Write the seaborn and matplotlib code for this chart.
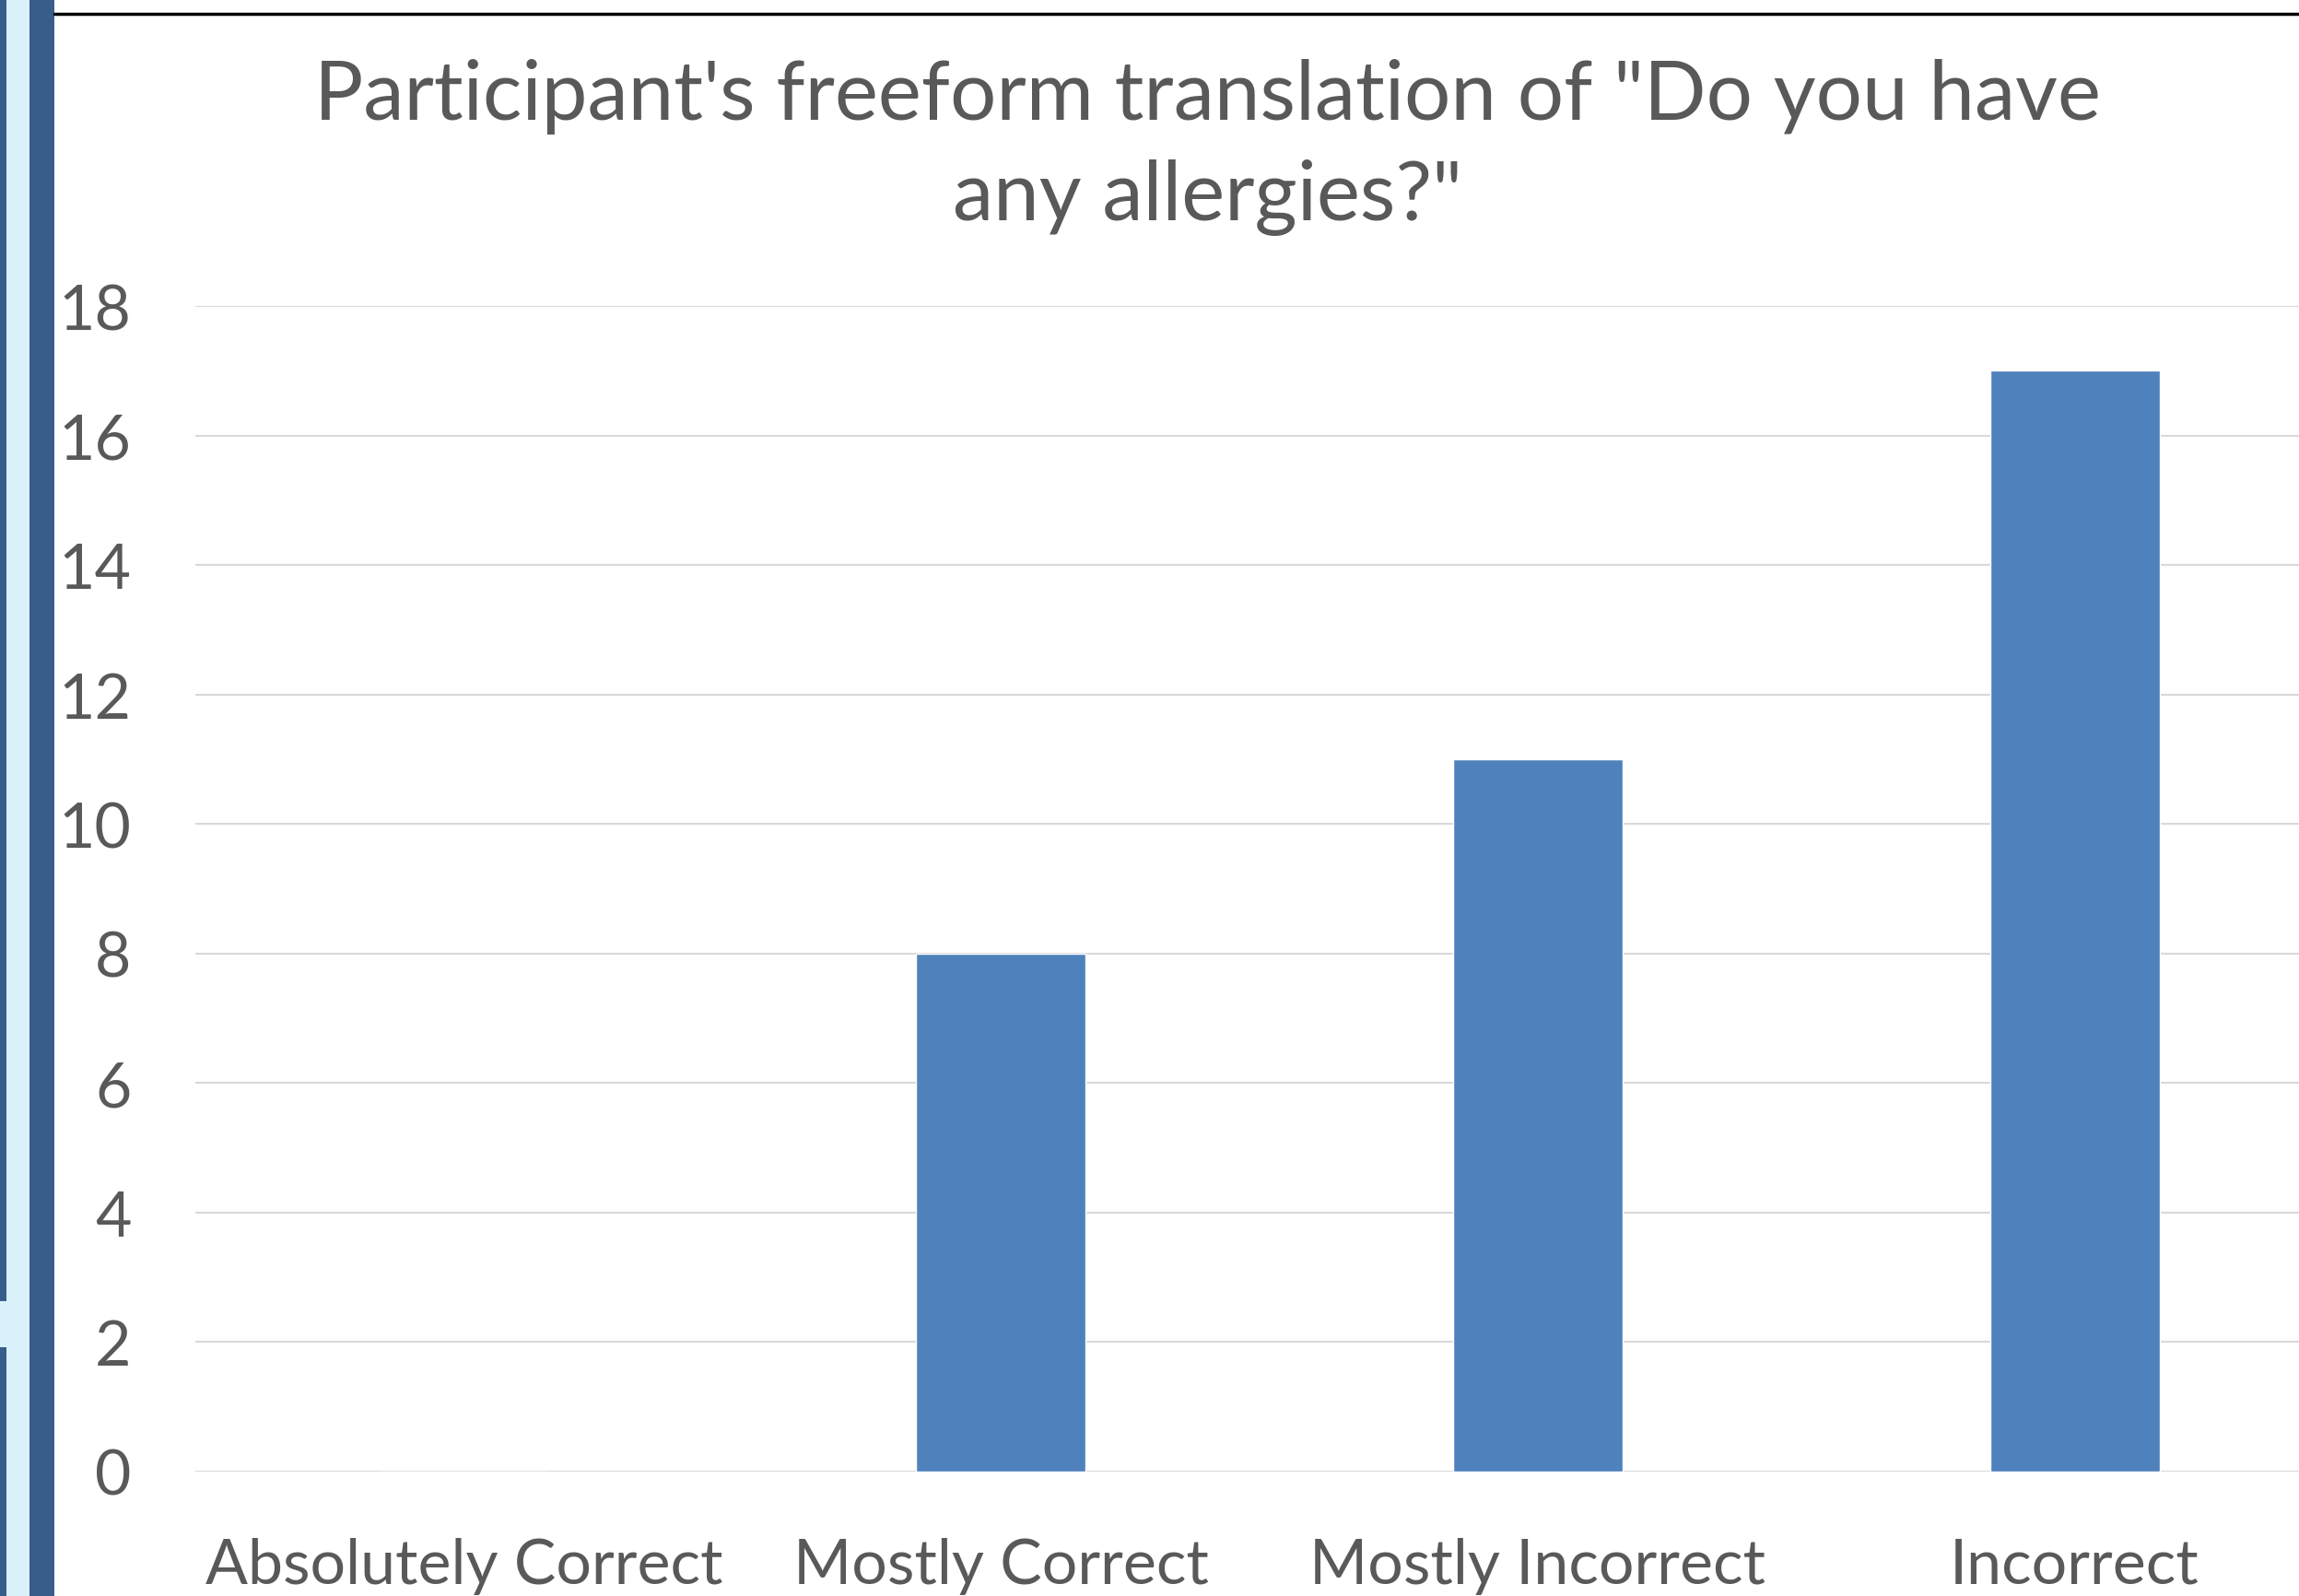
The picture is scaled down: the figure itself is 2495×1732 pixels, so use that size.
import matplotlib
matplotlib.use("Agg")
import matplotlib.pyplot as plt
from matplotlib.patches import Rectangle
from matplotlib.lines import Line2D
import seaborn as sns

categories = ["Absolutely Correct", "Mostly Correct", "Mostly Incorrect", "Incorrect"]
counts = [0, 8, 11, 17]
y_ticks = [0, 2, 4, 6, 8, 10, 12, 14, 16, 18]
title = "Participant's freeform translation of \"Do you have\nany allergies?\""

W, H = 2495, 1733
sns.set_style("white")
plt.rcParams["font.family"] = ["Lato", "DejaVu Sans"]
text_col = "#595959"

fig = plt.figure(figsize=(W / 100, H / 100), dpi=100)
fig.patch.set_facecolor("white")

# plot area (extends a bit past the right edge, as in the cropped screenshot)
left, right, top, bottom = 212, 2543, 333, 1598
ax = fig.add_axes([left / W, 1 - bottom / H, (right - left) / W, (bottom - top) / H])
sns.barplot(x=categories, y=counts, color="#4F81BD", saturation=1, width=0.316, ax=ax)
ax.set_xlim(-0.5, 3.5)
ax.set_ylim(0, 18)
ax.set_yticks(y_ticks)
ax.yaxis.grid(True, color="#D9D9D9", linewidth=1.5)
ax.set_axisbelow(True)
for s in ax.spines.values():
    s.set_visible(False)
ax.set_xlabel("")
ax.set_ylabel("")
ax.tick_params(axis="y", length=0, pad=50, labelsize=49, labelcolor=text_col)
ax.tick_params(axis="x", length=0, pad=51, labelsize=49, labelcolor=text_col)
ax.patch.set_alpha(0)

fig.text(1310 / W, 1 - 160 / H, title, ha="center", va="center",
         fontsize=64, color=text_col, linespacing=1.42)

# screenshot frame bits: top border line and left window edge
fig.add_artist(Line2D([59 / W, 1], [1 - 16 / H, 1 - 16 / H], color="black", linewidth=2.5))
fig.add_artist(Rectangle((0, 0), 7 / W, 1, transform=fig.transFigure, color="#385D8A", lw=0))
fig.add_artist(Rectangle((7 / W, 0), 25 / W, 1, transform=fig.transFigure, color="#DAF1FB", lw=0))
fig.add_artist(Rectangle((32 / W, 0), 27 / W, 1, transform=fig.transFigure, color="#385D8A", lw=0))
fig.add_artist(Rectangle((0, 1 - 1463 / H), 7 / W, 50 / H, transform=fig.transFigure,
                         color="#DAF1FB", lw=0))

fig.savefig("out.png", dpi=100)
